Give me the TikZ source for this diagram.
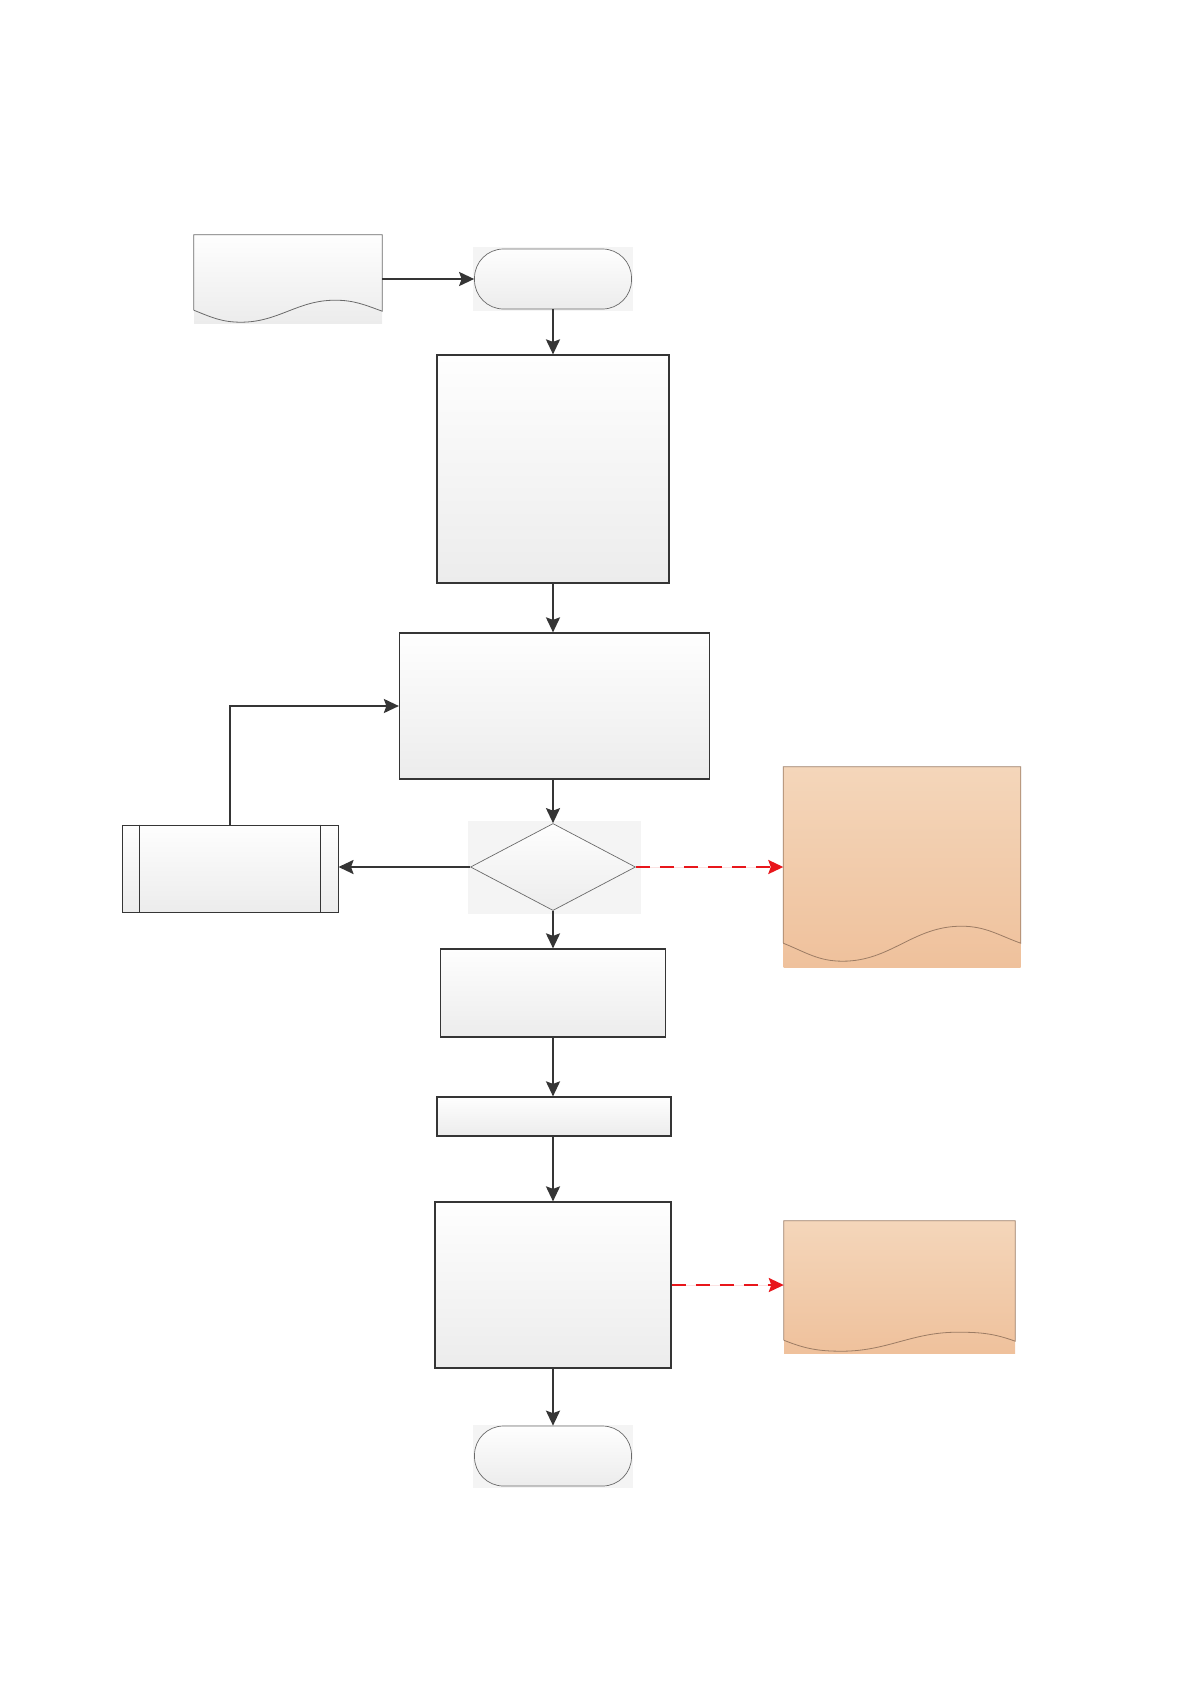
\documentclass[tikz,border=0pt]{standalone}
\usetikzlibrary{arrows.meta,positioning,calc,shapes.geometric,backgrounds}
\definecolor{fcLine}{HTML}{353535}
\definecolor{fcEdge}{HTML}{6a6a6a}
\definecolor{fcTop}{HTML}{fefefe}
\definecolor{fcBot}{HTML}{ececec}
\definecolor{fcBack}{HTML}{f4f4f4}
\definecolor{fcOrTop}{HTML}{f4d6ba}
\definecolor{fcOrBot}{HTML}{efc19c}
\definecolor{fcOrEdge}{HTML}{9c7c64}
\definecolor{fcRed}{HTML}{e8161b}
\tikzset{
  >={Stealth[length=15pt,width=14pt,inset=2.5pt]},
  procbox/.style={draw=fcLine, line width=1.2pt, top color=fcTop, bottom color=fcBot,
              inner sep=0pt},
  subbox/.style={procbox, line width=1pt},
  subline/.style={draw=fcLine, line width=1pt},
  termbox/.style={draw=fcEdge, line width=0.7pt, rounded corners=29pt, top color=fcTop,
              bottom color=fcBot, minimum width=157pt, minimum height=60pt, inner sep=0pt},
  decbox/.style={diamond, draw=fcEdge, line width=0.7pt, top color=fcTop, bottom color=fcBot,
              minimum width=165pt, minimum height=87pt, inner sep=0pt},
  docfill/.style={top color=fcTop, bottom color=fcBot, inner sep=0pt},
  docline/.style={draw=fcEdge, line width=0.8pt},
  notefill/.style={top color=fcOrTop, bottom color=fcOrBot, inner sep=0pt},
  noteline/.style={draw=fcOrEdge, line width=0.8pt},
  flow/.style={->, draw=fcLine, line width=2.2pt},
  warn/.style={->, draw=fcRed, fill=fcRed, line width=2.2pt, dash pattern=on 14pt off 10pt},
}
% outline of a document shape: node, style, lift at left, low, high, right
\newcommand{\docoutline}[6]{%
  \draw[#2] ([yshift=#3]#1.south west) -- (#1.north west) -- (#1.north east)
    -- ([yshift=#6]#1.south east)
    to[out=160,in=0] ($(#1.south west)!0.75!(#1.south east)+(0,#5)$)
    to[out=180,in=0] ($(#1.south west)!0.25!(#1.south east)+(0,#4)$)
    to[out=180,in=-22] ([yshift=#3]#1.south west);}

\begin{document}
\begin{tikzpicture}[x=1pt,y=-1pt]
  \useasboundingbox (0,0) rectangle (1191,1684);
  \node[docfill,minimum width=188pt,minimum height=88pt] (src) at (288,279) {};
  \docoutline{src}{docline}{13pt}{1pt}{23pt}{12pt}
  \node[termbox] (start) at (553,279) {};
  \node[procbox,minimum width=232pt,minimum height=228pt] (collect) at (553,469) {};
  \node[procbox,minimum width=310pt,minimum height=146pt] (prep) at (554.5,706) {};
  \node[decbox] (check) at (553,867) {};
  \node[subbox,minimum width=216pt,minimum height=87pt] (fix) at (230,868.5) {};
  \draw[subline] ([xshift=18pt]fix.north west) -- ([xshift=18pt]fix.south west);
  \draw[subline] ([xshift=-18pt]fix.north east) -- ([xshift=-18pt]fix.south east);
  \node[notefill,minimum width=237pt,minimum height=200pt] (noteA) at (902,867) {};
  \docoutline{noteA}{noteline}{24pt}{6pt}{41pt}{24pt}
  \node[procbox,minimum width=225pt,minimum height=88pt] (step) at (553,993) {};
  \node[procbox,minimum width=234pt,minimum height=39pt] (record) at (554,1116.5) {};
  \node[procbox,minimum width=236pt,minimum height=166pt] (review) at (553,1285) {};
  \node[notefill,minimum width=231pt,minimum height=132pt] (noteB) at (899.5,1287) {};
  \docoutline{noteB}{noteline}{13pt}{2pt}{21pt}{12pt}
  \node[termbox] (stop) at (553,1456) {};

  \begin{scope}[on background layer]
    \fill[fcBack] ([shift={(-1.5pt,-1.5pt)}]start.south west) rectangle ([shift={(1.5pt,1.5pt)}]start.north east);
    \fill[fcBack] ([shift={(-1.5pt,-1.5pt)}]stop.south west) rectangle ([shift={(1.5pt,1pt)}]stop.north east);
    \fill[fcBack] ([shift={(-2pt,-3pt)}]check.west |- check.south) rectangle ([shift={(5pt,2pt)}]check.east |- check.north);
  \end{scope}

  \draw[flow] (src.east) -- (src.east -| start.west);
  \draw[flow] (start.south) -- (collect.north);
  \draw[flow] (collect.south) -- (collect.south |- prep.north);
  \draw[flow] (prep.south -| check) -- (check.north);
  \draw[flow] (check.west) -- (check.west -| fix.east);
  \draw[flow] (fix.north) |- (prep.west);
  \draw[warn] (check.east) -- (check.east -| noteA.west);
  \draw[flow] (check.south) -- (step.north);
  \draw[flow] (step.south) -- (step.south |- record.north);
  \draw[flow] (record.south -| review) -- (review.north);
  \draw[warn] (review.east) -- (review.east -| noteB.west);
  \draw[flow] (review.south) -- (stop.north);
\end{tikzpicture}
\end{document}
